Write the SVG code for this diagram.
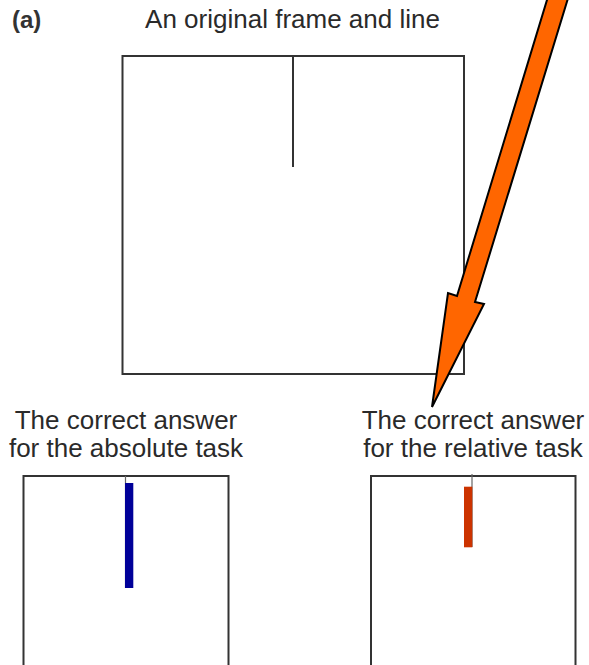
<svg xmlns="http://www.w3.org/2000/svg" width="589" height="665" viewBox="0 0 589 665">
<style>
.t{font-family:"Liberation Sans",Arial,sans-serif;font-size:26px;fill:#2a2a2a;text-anchor:middle}
.frame{fill:none;stroke:#333;stroke-width:2}
.thin{stroke:#666;stroke-width:1.2}
</style>
<rect width="589" height="665" fill="#fff"/>
<text x="12" y="28" font-family="Liberation Sans,Arial,sans-serif" font-size="24" font-weight="bold" fill="#333">(a)</text>
<g id="original">
<text class="t" x="292.5" y="28">An original frame and line</text>
<rect class="frame" x="122.5" y="56" width="341.5" height="318"/>
<line x1="293" y1="56" x2="293" y2="167" stroke="#333" stroke-width="2"/>
</g>
<g id="absolute">
<text class="t" x="126" y="429">The correct answer</text>
<text class="t" x="126" y="457">for the absolute task</text>
<rect class="frame" x="23.5" y="476" width="205" height="230"/>
<line class="thin" x1="125.5" y1="476" x2="125.5" y2="588"/>
<rect x="125" y="483" width="8.3" height="105" fill="#000099"/>
</g>
<g id="relative">
<text class="t" x="473" y="429">The correct answer</text>
<text class="t" x="473" y="457">for the relative task</text>
<rect class="frame" x="371" y="476" width="204.5" height="230"/>
<line class="thin" x1="472" y1="474" x2="472" y2="547"/>
<rect x="464" y="486.7" width="8.3" height="60.6" fill="#CC3300"/>
</g>
<g id="connectors">
<polygon points="548.5,-5 569,-5 475,302 484,304 432,407 448,293 457,296" fill="#FF6600" stroke="#000" stroke-width="2" stroke-linejoin="miter"/>
</g>
</svg>
